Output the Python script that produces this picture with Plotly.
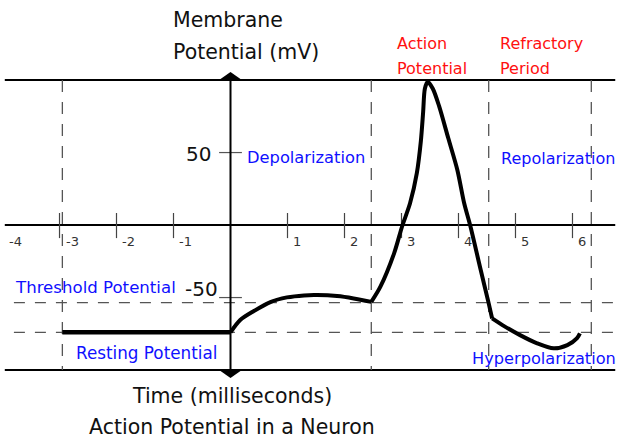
import plotly.graph_objects as go

# membrane potential trace (ms, mV)
rest_t = [-2.95, 0.0]
rest_v = [-74, -74]

depol_t = [0.0, 0.17, 0.41, 0.70, 0.99, 1.29, 1.52, 1.87, 2.16, 2.47]
depol_v = [-74, -65.5, -59.3, -53.1, -49.9, -48.5, -48.3, -49.0, -50.6, -53.0]

spike_t = [2.47, 2.63, 2.87, 3.01, 3.15, 3.27, 3.34, 3.38, 3.41, 3.46, 3.55, 3.66,
           3.82, 3.98, 4.10, 4.21, 4.39, 4.53, 4.59]
spike_v = [-53.0, -42.5, -19.5, -1, 15, 36, 58, 78, 94, 98.8, 94, 82,
           60, 38, 15, -1, -31, -54, -64.4]

hyper_t = [4.59, 4.80, 5.08, 5.38, 5.67, 5.91, 6.08, 6.13]
hyper_v = [-64.4, -69.7, -75.9, -81.6, -85.0, -82.8, -78.0, -74.7]

threshold_v = -53.5
resting_v = -74
phase_t = [-2.95, 2.47, 4.53, 6.33]

x_ticks = [-3, -2, -1, 1, 2, 3, 4, 5, 6]
x_labels = [-4, -3, -2, -1, 1, 2, 3, 4, 5, 6]
y_ticks = [50, -50]

FONT = "DejaVu Sans"
BLUE = "#1010ff"
RED = "#ff1010"

fig = go.Figure()

x0, x1 = -3.96, 6.75
# frame lines and time axis
for yv in [100, 0, -100]:
    fig.add_trace(go.Scatter(x=[x0, x1], y=[yv, yv], mode="lines",
                             line=dict(color="black", width=2), hoverinfo="skip"))

# dashed guide lines
for yv in [threshold_v, resting_v]:
    fig.add_trace(go.Scatter(x=[-3.8, 6.82], y=[yv, yv], mode="lines",
                             line=dict(color="#555", width=1.3, dash="11px,10px"),
                             hoverinfo="skip"))
for tv in phase_t:
    fig.add_trace(go.Scatter(x=[tv, tv], y=[100, -100], mode="lines",
                             line=dict(color="#555", width=1.3, dash="12px,10px"),
                             hoverinfo="skip"))

# time ticks
tx, ty = [], []
for t in x_ticks:
    tx += [t, t, None]
    ty += [8.3, -9, None]
fig.add_trace(go.Scatter(x=tx, y=ty, mode="lines",
                         line=dict(color="#444", width=1.2), hoverinfo="skip"))

# potential ticks
vx, vy = [], []
for v in y_ticks:
    vx += [-0.2, 0.2, None]
    vy += [v, v, None]
fig.add_trace(go.Scatter(x=vx, y=vy, mode="lines",
                         line=dict(color="#555", width=1.2), hoverinfo="skip"))

# vertical potential axis
fig.add_trace(go.Scatter(x=[0, 0], y=[100, -100], mode="lines",
                         line=dict(color="black", width=2), hoverinfo="skip"))
fig.add_shape(type="path", path="M -0.2,100 L 0.2,100 L 0,105.5 Z",
              fillcolor="black", line=dict(width=0))
fig.add_shape(type="path", path="M -0.2,-100 L 0.2,-100 L 0,-105.5 Z",
              fillcolor="black", line=dict(width=0))

# the action potential itself
fig.add_trace(go.Scatter(x=rest_t, y=rest_v, mode="lines",
                         line=dict(color="black", width=4.5)))
for t, v in [(depol_t, depol_v), (spike_t, spike_v), (hyper_t, hyper_v)]:
    fig.add_trace(go.Scatter(x=t, y=v, mode="lines",
                             line=dict(color="black", width=4, shape="spline", smoothing=0.8)))

# tick labels
for lab in x_labels:
    fig.add_annotation(x=lab + 0.07, y=-11, text=str(lab), showarrow=False,
                       xanchor="left", yanchor="middle",
                       font=dict(family=FONT, size=13, color="#333"))
fig.add_annotation(x=-0.3, y=49, text="50", showarrow=False, xanchor="right",
                   yanchor="middle", font=dict(family=FONT, size=20, color="#111"))
fig.add_annotation(x=-0.18, y=-44, text="-50", showarrow=False, xanchor="right",
                   yanchor="middle", font=dict(family=FONT, size=20, color="#111"))

labels = [
    ("Membrane", -1.05, 141.4, "left", 20.5, "#111"),
    ("Potential (mV)", -1.05, 119.3, "left", 20.5, "#111"),
    ("Action", 2.89, 125.5, "left", 16, RED),
    ("Potential", 2.89, 108.3, "left", 16, RED),
    ("Refractory", 4.69, 125.5, "left", 16, RED),
    ("Period", 4.69, 108.3, "left", 16, RED),
    ("Depolarization", 0.25, 46.9, "left", 16.3, BLUE),
    ("Repolarization", 4.71, 46.2, "left", 16, BLUE),
    ("Threshold Potential", -3.82, -42.8, "left", 16.6, BLUE),
    ("Resting Potential", -0.2, -88.3, "right", 16.8, BLUE),
    ("Hyperpolarization", 4.2, -91.7, "left", 16.2, BLUE),
    ("Time (milliseconds)", 0.03, -117.9, "center", 20.5, "#111"),
    ("Action Potential in a Neuron", 0.03, -139.3, "center", 20.5, "#111"),
]
for text, x, y, anchor, size, color in labels:
    fig.add_annotation(x=x, y=y, text=text, showarrow=False, xanchor=anchor,
                       yanchor="middle", font=dict(family=FONT, size=size, color=color))

fig.update_layout(
    width=619, height=443,
    margin=dict(l=0, r=0, t=0, b=0),
    plot_bgcolor="white", paper_bgcolor="white",
    showlegend=False,
    xaxis=dict(range=[-4.044, 6.816], visible=False, fixedrange=True),
    yaxis=dict(range=[-150.3, 155.2], visible=False, fixedrange=True),
)

# drop the browser's default body margin so the chart sits at the page corner
fig.write_html("out.html", config={"displayModeBar": False},
               post_script="document.body.style.margin='0';"
               "document.body.style.overflow='hidden';")
